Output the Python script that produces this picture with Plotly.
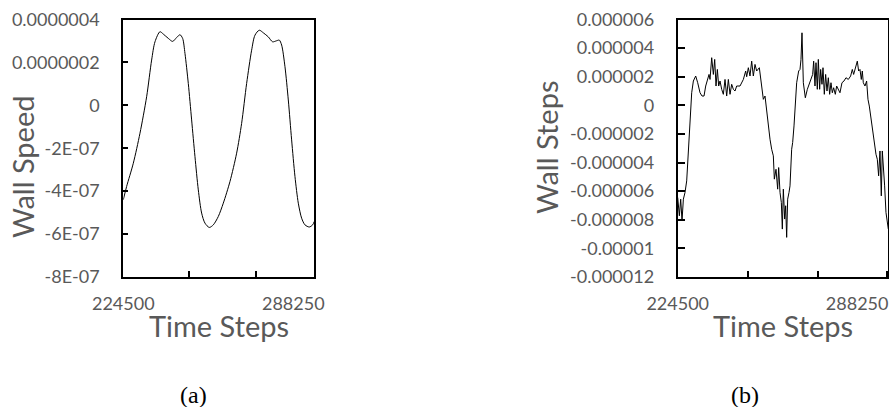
import plotly.graph_objects as go

# ---------------- data ----------------
# (a) Wall speed vs time step
time_a = [224500, 225750, 228250, 230750, 233250, 235125, 236375, 238250, 239500,
          241375, 243000, 244500, 245750, 246750, 247625, 248875, 250125, 251375,
          252625, 253875, 255125, 256750, 258250, 260125, 262000, 264500, 267000,
          268875, 270750, 272625, 273875, 275500, 277000, 278875, 280500, 282000,
          283000, 283875, 285125, 286375, 287625, 288875, 290125, 291375, 292625,
          294250, 295500, 296125]
speed_a = [-4.40, -3.78, -2.70, -1.30, 0.40, 2.11, 2.96, 3.43, 3.32,
           3.12, 2.98, 3.16, 3.29, 3.12, 2.42, 1.02, -0.68, -2.39,
           -3.94, -5.02, -5.49, -5.69, -5.57, -5.18, -4.56, -3.55, -2.23,
           -0.84, 1.02, 2.57, 3.27, 3.50, 3.38, 3.19, 2.96, 3.01,
           3.04, 2.81, 1.80, 0.25, -1.61, -3.32, -4.56, -5.26, -5.57,
           -5.67, -5.57, -5.41]
speed_a = [v * 1e-7 for v in speed_a]

# (b) Wall steps vs time step
time_b = [224500, 225092, 225566, 226039, 226513, 227105, 227697, 228289, 228881,
          229473, 230065, 230894, 231604, 232433, 233143, 233854, 234446, 235038,
          235630, 235985, 236577, 237169, 237642, 238116, 238590, 239063, 239537,
          240129, 240721, 241313, 241905, 242497, 243089, 243681, 244273, 244865,
          245457, 246641, 247825, 248654, 249009, 249601, 250193, 250785, 251377,
          251969, 252561, 253508, 253982, 254455, 254929, 255521, 256113, 256705,
          257297, 257889, 258481, 258836, 259428, 260020, 260375, 260849, 261322,
          261678, 262033, 262506, 262862, 263217, 263572, 264046, 264401, 264993,
          265348, 265822, 266295, 266769, 267479, 267953, 268308, 268663, 269137,
          269847, 270558, 271268, 271978, 272452, 272807, 273281, 273636, 274110,
          274465, 274938, 275294, 275767, 276122, 276596, 277070, 277543, 278017,
          278490, 278964, 279438, 279911, 280503, 280977, 281687, 282161, 282871,
          283582, 284292, 285121, 285950, 286542, 287015, 287726, 288318, 288791,
          289265, 289738, 290094, 290449, 291041, 291633, 292106, 292580, 293054,
          293527, 294001, 294474, 294948, 295422, 295895, 296369, 296842, 297198,
          297553, 298026, 298500, 298855, 299329]
steps_b = [-6.44, -7.72, -6.56, -8.07, -6.56, -6.09, -5.28, -3.07, -0.74,
           0.88, 1.70, 2.05, 1.58, 0.88, 0.65, 0.65, 1.35, 1.86,
           2.16, 1.81, 3.33, 2.16, 3.21, 1.35, 2.51, 1.35, 1.70,
           1.12, 0.77, 1.81, 0.65, 1.81, 0.77, 1.47, 1.12, 1.00,
           1.35, 1.35, 1.81, 2.40, 2.00, 2.63, 2.05, 3.09, 2.05,
           2.86, 2.40, 2.63, 1.81, 1.35, 0.42, 0.65, -0.51, -1.44,
           -2.37, -3.07, -3.53, -5.16, -4.47, -5.86, -4.35, -6.09, -6.79,
           -8.65, -5.86, -7.95, -7.02, -9.23, -6.56, -6.09, -5.63, -3.07,
           -2.60, -1.44, 0.42, 1.58, 2.40, 2.51, 3.21, 5.07, 1.58,
           0.53, 1.12, 1.47, 1.81, 2.16, 3.09, 1.35, 2.98, 1.12,
           3.21, 1.12, 2.51, 1.47, 2.63, 0.77, 2.16, 1.00, 1.93,
           0.77, 1.58, 0.88, 1.23, 0.77, 1.35, 1.12, 0.88, 1.58,
           1.70, 1.93, 1.81, 2.05, 2.51, 2.16, 2.63, 3.09, 2.40,
           2.51, 1.81, 2.40, 1.58, 1.35, 1.70, 0.42, -0.05, -0.74,
           -1.21, -1.91, -2.84, -3.42, -3.77, -4.93, -3.19, -6.33, -3.19,
           -4.70, -5.63, -7.49, -8.19, -8.65]
steps_b = [v * 1e-6 for v in steps_b]

# axis ticks
xlabel_vals = [224500, 288250]
xlabel_text = ["224500", "288250"]
xmark_vals = [249300, 274200, 298750]

ya_vals = [4e-7, 2e-7, 0, -2e-7, -4e-7, -6e-7, -8e-7]
ya_text = ["0.0000004", "0.0000002", "0", "-2E-07", "-4E-07", "-6E-07", "-8E-07"]
yb_vals = [6e-6, 4e-6, 2e-6, 0, -2e-6, -4e-6, -6e-6, -8e-6, -1e-5, -1.2e-5]
yb_text = ["0.000006", "0.000004", "0.000002", "0", "-0.000002", "-0.000004",
           "-0.000006", "-0.000008", "-0.00001", "-0.000012"]

# ---------------- figure ----------------
W, H = 889, 407
GRAY = "#595959"
SANS = "Lato"
TICKF = dict(family=SANS, size=18, color=GRAY)

def px(x):
    return x / W

def py(y):
    return 1 - y / H

dom_y = [py(277), py(19.5)]
dom_xa = [px(123.3), px(314.3)]
dom_xb = [px(677.7), px(888.3)]

fig = go.Figure()
fig.add_trace(go.Scatter(x=time_a, y=speed_a, mode="lines", xaxis="x", yaxis="y",
                         line=dict(color="#000000", width=1, shape="spline", smoothing=0.8),
                         showlegend=False, hoverinfo="skip"))
fig.add_trace(go.Scatter(x=time_b, y=steps_b, mode="lines", xaxis="x2", yaxis="y2",
                         line=dict(color="#000000", width=1),
                         showlegend=False, hoverinfo="skip"))

box = dict(showline=True, linecolor="#000000", linewidth=2, mirror=True,
           showgrid=False, zeroline=False, automargin=False)

xminor = dict(tickmode="array", tickvals=xmark_vals, ticks="inside", ticklen=6,
              tickwidth=1.5, tickcolor="#000000", showgrid=False)

fig.update_layout(
    width=W, height=H, autosize=False,
    margin=dict(l=0, r=0, t=0, b=0, pad=0),
    paper_bgcolor="white", plot_bgcolor="white",
    xaxis=dict(domain=dom_xa, range=[224500, 296125], anchor="y",
               tickmode="array", tickvals=xlabel_vals, ticktext=xlabel_text,
               ticks="", tickfont=TICKF, ticklabelstandoff=9,
               minor=xminor, **box),
    yaxis=dict(domain=dom_y, range=[-8e-7, 4e-7], anchor="x",
               tickmode="array", tickvals=ya_vals, ticktext=ya_text,
               ticks="inside", ticklen=5, tickwidth=1.5, tickcolor="#000000",
               tickfont=TICKF, ticklabelstandoff=18, **box),
    xaxis2=dict(domain=dom_xb, range=[224500, 299329], anchor="y2",
                tickmode="array", tickvals=xlabel_vals, ticktext=xlabel_text,
                ticks="", tickfont=TICKF, ticklabelstandoff=9,
                minor=xminor, **box),
    yaxis2=dict(domain=dom_y, range=[-1.2e-5, 6e-6], anchor="x2",
                tickmode="array", tickvals=yb_vals, ticktext=yb_text,
                ticks="inside", ticklen=7, tickwidth=1.5, tickcolor="#000000",
                tickfont=TICKF, ticklabelstandoff=18, **box),
)

TITLEF = dict(family=SANS, size=29, color=GRAY)
ann = [
    dict(text="Wall Speed", x=px(22), y=py(167), textangle=-90, font=TITLEF),
    dict(text="Wall Steps", x=px(546), y=py(148), textangle=-90, font=TITLEF),
    dict(text="Time Steps", x=px(219), y=py(325), font=TITLEF),
    dict(text="Time Steps", x=px(783), y=py(325), font=TITLEF),
    dict(text="(a)", x=px(193), y=py(395),
         font=dict(family="Liberation Serif", size=24, color="#000000")),
    dict(text="(b)", x=px(745), y=py(395),
         font=dict(family="Liberation Serif", size=24, color="#000000")),
]
for a in ann:
    fig.add_annotation(xref="paper", yref="paper", showarrow=False,
                       xanchor="center", yanchor="middle", **a)

fig.write_html("out.html",
               config={"displayModeBar": False},
               post_script="document.body.style.margin='0';document.body.style.overflow='hidden';")
